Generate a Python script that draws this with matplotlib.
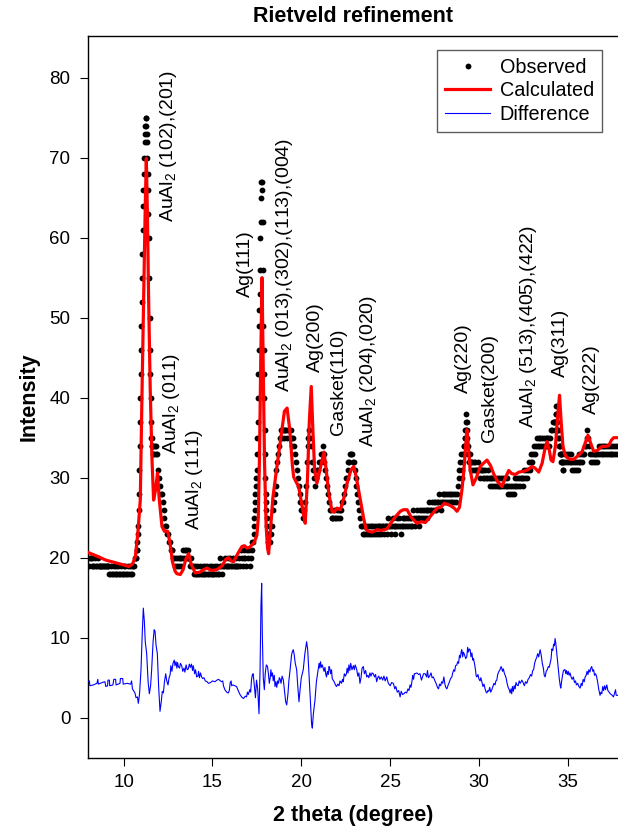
import numpy as np
import matplotlib
matplotlib.use("Agg")
import matplotlib.pyplot as plt

plt.rcParams['font.family'] = ['Liberation Sans', 'DejaVu Sans']
plt.rcParams['mathtext.fontset'] = 'custom'
plt.rcParams['mathtext.rm'] = 'Liberation Sans'

# observed counts, stored as (start 2theta, step, values) chunks
obs_a = (8.00, 0.05, [20, 19, 20, 20, 19, 20, 19,
                      19, 20, 19, 19, 20, 19, 19, 19,
                      19, 19, 19, 19, 19, 19, 19, 19, 19, 18,
                      18, 19, 18, 18, 19, 18, 19, 18, 18, 19, 18, 18, 19,
                      18, 18, 19, 18, 19, 18, 18, 19, 18, 19, 18, 19, 18,
                      19, 19, 20])
obs_b = (10.70, 0.02, [20, 20, 21, 21, 22, 23, 24, 26, 28, 31,
                       34, 37, 40, 43, 46, 49, 52, 55, 58, 61,
                       64, 66, 68, 70, 72, 73, 74, 75, 75, 74,
                       73, 72, 70, 68, 66, 63, 60, 55, 50, 46,
                       43, 40, 37, 35, 35, 34, 34, 34, 33, 34, 33])
obs_c = (11.75, 0.05, [34, 34, 33, 33, 31, 30, 29, 28, 28, 27,
                       26, 25, 24, 24, 23, 23, 22, 22, 21, 21,
                       21, 20, 20, 19, 20, 19, 20, 19, 20, 20,
                       19, 20, 21, 20, 21, 21, 20, 21, 20, 20,
                       19, 20, 19, 19, 18, 19, 18, 18, 19, 18,
                       18, 19, 18, 18, 19, 18, 18, 19, 18, 19,
                       18, 18, 19, 18, 18, 19, 18, 18, 19, 18,
                       19, 18, 18, 19, 20, 19, 18, 19, 19, 20,
                       19, 19, 20, 19, 19, 20, 19, 19, 20, 19,
                       19, 19, 20, 19, 19, 20, 19, 21, 20, 19,
                       20, 21, 20, 19, 21, 20, 21, 19, 20, 21, 22])
obs_d = (17.30, 0.02, [22, 23, 24, 25, 26, 27, 28, 29, 30, 31,
                       33, 35, 37, 40, 43, 46, 49, 51, 53, 56,
                       60, 62, 65, 67, 67, 66, 62, 56, 49, 46,
                       43, 40, 36, 33, 30, 28, 27, 26, 25, 24,
                       23, 23, 22, 22, 22, 22])
obs_e = (18.25, 0.05, [22, 23, 24, 26, 27, 28, 29, 31, 32, 33,
                       34, 35, 36, 35, 36, 36, 35, 36, 36, 35,
                       36, 36, 35, 36, 35, 34, 35, 34, 33, 32,
                       31, 30, 29, 28, 27, 26, 26, 25, 26, 27,
                       29, 32, 34, 35, 36, 35, 34, 32, 31, 30,
                       29, 30, 30, 31, 31, 32, 32, 33, 33, 34,
                       33, 32, 31, 30, 29, 28, 27, 26, 26, 25,
                       25, 25, 26, 25, 25, 26, 25, 26, 26, 25,
                       26, 27, 27, 28, 29, 30, 30, 31, 32, 32,
                       33, 33, 33, 32, 32, 31, 30, 29, 28, 27,
                       26, 25, 24, 24, 23, 24, 23, 24, 23, 24,
                       23, 24, 23, 24, 23, 24, 23, 24, 23, 24,
                       23, 24, 24, 23, 24, 23, 24, 24, 23, 24,
                       24, 23, 24, 25, 24, 24, 23, 24, 25, 24,
                       24, 23, 24, 25, 24, 25, 24, 23, 24, 25,
                       24, 25, 24, 25, 24, 25, 24, 25, 24, 25,
                       24, 26, 25, 24, 25, 26, 25, 24, 25, 26,
                       25, 26, 25, 26, 25, 26, 26, 25, 26, 27,
                       26, 26, 27, 26, 27, 26, 27, 26, 27, 27,
                       28, 27, 26, 27, 28, 27, 28, 27, 28, 27,
                       28, 27, 28, 27, 28, 27, 28, 27, 28, 27,
                       28, 29, 30, 31, 32, 33])
obs_f = (29.05, 0.02, [30, 31, 32, 33, 33, 34, 34, 35, 35, 36,
                       36, 37, 38, 37, 36, 35, 34, 33, 33, 32,
                       33, 32, 33, 32, 31, 32])
obs_g = (29.60, 0.05, [32, 31, 32, 31, 32, 31, 31, 32, 31, 30,
                       31, 31, 30, 31, 30, 31, 30, 30, 31, 30,
                       29, 30, 30, 29, 30, 29, 30, 29, 30, 29,
                       30, 29, 29, 30, 29, 30, 29, 30, 29, 30,
                       29, 28, 29, 28, 29, 28, 29, 28, 29, 30,
                       29, 30, 29, 30, 29, 30, 30, 29, 30, 31,
                       30, 31, 30, 31, 32, 31, 32, 33, 32, 33,
                       34, 33, 34, 35, 34, 35, 34, 35, 34, 35,
                       34, 35, 34, 35, 34, 35, 35, 34, 35, 36,
                       36, 37, 37])
obs_h = (34.25, 0.02, [36, 37, 37, 38, 38, 39, 39, 38, 37, 36,
                       36, 35, 35, 34, 34, 34, 33, 33, 32, 33,
                       32, 33, 32, 31, 32, 31])
obs_i = (34.80, 0.05, [32, 33, 32, 33, 32, 33, 32, 33, 32, 31,
                       32, 31, 32, 31, 32, 31, 32, 33, 32, 33,
                       32, 33, 33, 34, 34, 35, 36, 35, 34, 33,
                       32, 33, 32, 33, 32, 33, 33, 32, 33, 34,
                       33, 34, 33, 34, 33, 34, 33, 34, 33, 34,
                       33, 34, 33, 33, 34, 33, 34, 33, 34, 33,
                       34])
obs_chunks = [obs_a, obs_b, obs_c, obs_d, obs_e, obs_f, obs_g, obs_h, obs_i]

# calculated profile (2theta, intensity)
calc_x = [7.95, 8.5, 9.0, 9.5, 10.0, 10.29, 10.5, 10.66, 10.8, 10.94,
          11.03, 11.13, 11.22, 11.28, 11.34, 11.41, 11.5, 11.6, 11.69, 11.8,
          11.91, 12.0, 12.16, 12.3, 12.48, 12.6, 12.75, 12.9, 13.0, 13.19,
          13.35, 13.5, 13.66, 13.8, 14.03, 14.3, 14.5, 14.69, 14.95, 15.25,
          15.55, 15.75, 15.9, 16.05, 16.19, 16.4, 16.66, 16.8, 16.94, 17.1,
          17.22, 17.35, 17.5, 17.58, 17.65, 17.72, 17.79, 17.85, 17.93, 18.02,
          18.1, 18.16, 18.25, 18.4, 18.63, 18.85, 19.05, 19.2, 19.35, 19.5,
          19.57, 19.7, 19.85, 20.0, 20.12, 20.22, 20.35, 20.45, 20.56, 20.65,
          20.75, 20.88, 21.0, 21.15, 21.28, 21.4, 21.55, 21.73, 21.85, 22.0,
          22.2, 22.4, 22.6, 22.8, 22.95, 23.1, 23.3, 23.5, 23.65, 23.79,
          24.0, 24.26, 24.5, 24.82, 25.0, 25.25, 25.57, 25.75, 25.95, 26.2,
          26.51, 26.75, 26.98, 27.2, 27.45, 27.64, 27.85, 28.05, 28.2, 28.4,
          28.6, 28.76, 28.9, 29.04, 29.15, 29.25, 29.32, 29.4, 29.5, 29.66,
          29.85, 30.07, 30.25, 30.45, 30.65, 30.82, 31.05, 31.29, 31.45, 31.67,
          31.85, 32.04, 32.25, 32.51, 32.75, 32.98, 33.15, 33.36, 33.55, 33.7,
          33.83, 33.95, 34.05, 34.16, 34.3, 34.42, 34.53, 34.62, 34.72, 34.82,
          34.91, 35.1, 35.32, 35.55, 35.79, 35.95, 36.13, 36.3, 36.45, 36.65,
          36.8, 36.92, 37.1, 37.3, 37.45, 37.58, 37.85]
calc_y = [20.7, 20.2, 19.7, 19.4, 19.1, 18.9, 19.2, 20.1, 23.0, 27.2,
          39.7, 52.2, 64.0, 69.9, 63.0, 52.2, 41.0, 32.2, 27.2, 28.5,
          30.6, 27.5, 23.9, 23.3, 23.3, 22.0, 19.5, 18.3, 18.0, 17.9,
          18.5, 19.8, 20.5, 19.2, 18.1, 18.2, 18.5, 18.7, 18.4, 18.5,
          19.0, 19.8, 20.0, 19.6, 19.5, 20.4, 21.4, 21.5, 21.2, 21.3,
          21.6, 21.9, 22.8, 25.0, 33.0, 45.0, 55.0, 45.0, 32.0, 24.0,
          21.2, 20.5, 23.0, 27.5, 31.4, 35.0, 38.3, 38.7, 36.0, 31.5,
          30.1, 29.5, 28.9, 27.0, 25.5, 24.3, 30.0, 37.0, 41.4, 36.0,
          31.0, 29.3, 30.5, 32.0, 33.2, 31.0, 28.0, 25.8, 25.7, 26.2,
          26.0, 27.5, 29.5, 31.0, 31.4, 30.0, 27.5, 25.0, 23.5, 23.3,
          23.2, 23.5, 23.4, 23.6, 24.2, 25.0, 25.8, 26.0, 26.0, 25.0,
          24.3, 24.5, 24.4, 25.0, 25.7, 26.2, 26.3, 26.8, 26.7, 26.5,
          26.2, 25.8, 26.3, 28.5, 31.0, 34.0, 36.0, 34.0, 31.0, 29.1,
          30.0, 31.4, 31.8, 32.2, 31.5, 30.5, 29.5, 28.9, 29.8, 30.9,
          30.5, 30.4, 30.7, 30.8, 31.0, 31.4, 31.2, 30.7, 31.8, 33.5,
          34.5, 33.5, 32.2, 32.0, 34.0, 37.5, 40.3, 37.0, 34.0, 33.0,
          32.6, 32.3, 32.3, 32.7, 33.2, 34.2, 35.3, 34.2, 33.3, 33.4,
          33.7, 33.9, 33.9, 34.0, 34.7, 35.0, 35.0]

# difference curve (2theta, value)
diff_x = [8.00, 8.08, 8.10, 8.30, 8.50, 8.55, 8.58, 8.80, 8.95, 9.00,
          9.10, 9.12, 9.20, 9.22, 9.40, 9.45, 9.55, 9.58, 9.80, 9.82,
          9.95, 9.98, 10.20, 10.40, 10.45, 10.50, 10.64, 10.70, 10.78, 10.83,
          10.90, 10.98, 11.05, 11.11, 11.17, 11.22, 11.30, 11.38, 11.45, 11.52,
          11.58, 11.66, 11.72, 11.77, 11.83, 11.90, 11.97, 12.05, 12.12, 12.18,
          12.24, 12.30, 12.37, 12.43, 12.50, 12.56, 12.62, 12.66, 12.72, 12.78,
          12.85, 12.89, 12.95, 13.00, 13.04, 13.08, 13.15, 13.20, 13.27, 13.33,
          13.40, 13.45, 13.52, 13.58, 13.64, 13.70, 13.76, 13.82, 13.88, 13.92,
          14.00, 14.05, 14.11, 14.18, 14.22, 14.27, 14.33, 14.39, 14.45, 14.52,
          14.60, 14.70, 14.77, 14.90, 15.00, 15.14, 15.25, 15.35, 15.45, 15.52,
          15.58, 15.62, 15.70, 15.80, 15.89, 15.95, 16.00, 16.05, 16.08, 16.15,
          16.25, 16.36, 16.45, 16.55, 16.64, 16.75, 16.85, 16.92, 16.97, 17.02,
          17.10, 17.15, 17.20, 17.25, 17.29, 17.35, 17.42, 17.48, 17.55, 17.62,
          17.68, 17.73, 17.77, 17.81, 17.86, 17.92, 17.97, 18.03, 18.10, 18.15,
          18.20, 18.25, 18.29, 18.33, 18.38, 18.42, 18.48, 18.52, 18.57, 18.62,
          18.67, 18.72, 18.76, 18.80, 18.86, 18.92, 18.99, 19.05, 19.12, 19.18,
          19.25, 19.30, 19.37, 19.45, 19.50, 19.55, 19.60, 19.66, 19.74, 19.80,
          19.87, 19.93, 20.00, 20.11, 20.20, 20.30, 20.36, 20.45, 20.53, 20.58,
          20.62, 20.68, 20.77, 20.85, 20.95, 21.00, 21.04, 21.08, 21.13, 21.18,
          21.23, 21.28, 21.33, 21.38, 21.42, 21.47, 21.52, 21.56, 21.60, 21.65,
          21.70, 21.74, 21.79, 21.85, 21.92, 21.98, 22.05, 22.12, 22.18, 22.26,
          22.32, 22.36, 22.42, 22.48, 22.54, 22.58, 22.63, 22.68, 22.73, 22.78,
          22.85, 22.93, 22.98, 23.03, 23.08, 23.12, 23.18, 23.24, 23.30, 23.36,
          23.42, 23.49, 23.55, 23.62, 23.68, 23.74, 23.80, 23.86, 23.92, 23.98,
          24.05, 24.12, 24.18, 24.24, 24.30, 24.36, 24.42, 24.50, 24.58, 24.65,
          24.72, 24.81, 24.86, 24.90, 25.00, 25.08, 25.18, 25.26, 25.32, 25.40,
          25.48, 25.56, 25.62, 25.70, 25.78, 25.85, 25.93, 26.00, 26.06, 26.12,
          26.17, 26.21, 26.27, 26.32, 26.36, 26.40, 26.50, 26.60, 26.68, 26.76,
          26.82, 26.88, 26.97, 27.05, 27.10, 27.15, 27.22, 27.30, 27.36, 27.43,
          27.52, 27.60, 27.66, 27.72, 27.78, 27.84, 27.90, 27.96, 28.02, 28.08,
          28.13, 28.19, 28.25, 28.32, 28.40, 28.47, 28.52, 28.58, 28.63, 28.68,
          28.75, 28.80, 28.85, 28.90, 28.95, 29.00, 29.03, 29.08, 29.12, 29.18,
          29.25, 29.31, 29.36, 29.40, 29.45, 29.50, 29.55, 29.60, 29.65, 29.69,
          29.75, 29.80, 29.84, 29.88, 29.94, 30.00, 30.06, 30.10, 30.16, 30.22,
          30.28, 30.34, 30.40, 30.44, 30.50, 30.55, 30.60, 30.66, 30.72, 30.78,
          30.84, 30.90, 30.95, 31.00, 31.05, 31.12, 31.18, 31.24, 31.28, 31.32,
          31.37, 31.42, 31.47, 31.52, 31.58, 31.64, 31.70, 31.75, 31.80, 31.84,
          31.88, 31.93, 31.98, 32.03, 32.08, 32.13, 32.20, 32.26, 32.32, 32.41,
          32.48, 32.55, 32.62, 32.69, 32.76, 32.83, 32.90, 32.96, 33.02, 33.07,
          33.13, 33.18, 33.24, 33.30, 33.36, 33.40, 33.44, 33.50, 33.56, 33.62,
          33.67, 33.72, 33.78, 33.84, 33.90, 33.95, 34.00, 34.05, 34.10, 34.15,
          34.20, 34.24, 34.28, 34.32, 34.37, 34.42, 34.47, 34.52, 34.57, 34.60,
          34.65, 34.70, 34.75, 34.80, 34.84, 34.88, 34.92, 34.97, 35.02, 35.07,
          35.12, 35.18, 35.24, 35.31, 35.37, 35.43, 35.48, 35.55, 35.62, 35.69,
          35.75, 35.80, 35.86, 35.92, 35.97, 36.03, 36.08, 36.13, 36.18, 36.24,
          36.29, 36.34, 36.40, 36.45, 36.50, 36.56, 36.62, 36.68, 36.74, 36.81,
          36.86, 36.91, 36.96, 37.01, 37.07, 37.12, 37.19, 37.25, 37.32, 37.38,
          37.44, 37.50, 37.56, 37.62, 37.68, 37.72, 37.78, 37.85]
diff_y = [4.5, 4.6, 4.0, 4.1, 4.3, 4.8, 4.2, 4.4, 4.5, 3.9,
          4.0, 4.7, 4.7, 4.0, 4.1, 4.8, 4.8, 4.1, 4.3, 4.9,
          4.9, 4.2, 4.3, 4.2, 4.6, 3.6, 3.1, 2.5, 2.6, 1.8,
          3.0, 6.0, 10.5, 13.7, 12.0, 9.5, 8.0, 4.5, 3.0, 4.0,
          6.0, 9.5, 11.0, 10.8, 9.0, 8.0, 4.0, 0.8, 2.0, 3.3,
          3.1, 4.5, 5.5, 4.6, 4.1, 5.0, 5.4, 6.5, 5.8, 6.8,
          7.2, 6.5, 7.0, 6.2, 6.9, 6.4, 6.2, 6.8, 6.5, 5.8,
          6.2, 5.7, 6.6, 6.0, 6.1, 6.7, 6.3, 6.7, 5.9, 6.5,
          5.5, 6.0, 5.1, 5.2, 5.8, 5.0, 5.6, 5.1, 4.9, 5.0,
          4.6, 4.5, 4.3, 4.4, 4.6, 4.5, 4.7, 4.8, 4.6, 4.5,
          4.6, 4.0, 3.5, 3.2, 3.1, 3.4, 4.4, 4.6, 4.0, 4.1,
          4.0, 3.9, 3.4, 2.9, 2.6, 2.4, 2.7, 2.6, 3.2, 2.9,
          3.5, 3.2, 4.8, 5.4, 5.5, 4.2, 2.5, 4.7, 3.5, 0.5,
          6.0, 14.0, 16.8, 10.0, 5.0, 3.5, 5.5, 6.6, 6.4, 5.5,
          4.3, 5.0, 6.0, 5.2, 5.6, 4.6, 5.3, 3.9, 4.5, 3.8,
          4.6, 4.3, 5.0, 4.9, 4.3, 5.2, 4.7, 3.5, 2.0, 1.6,
          3.0, 4.6, 6.0, 7.8, 8.3, 8.5, 7.9, 6.8, 6.0, 4.0,
          2.0, 3.5, 5.0, 6.0, 8.0, 9.5, 8.5, 4.7, 1.5, -0.8,
          -1.3, 0.5, 2.2, 4.5, 6.0, 6.8, 6.2, 7.0, 6.3, 6.6,
          6.2, 5.8, 6.3, 5.4, 5.1, 5.8, 5.4, 6.4, 6.2, 5.5,
          6.0, 4.9, 4.7, 4.5, 4.1, 3.9, 4.2, 4.0, 4.6, 4.3,
          4.8, 4.5, 5.5, 5.2, 5.5, 6.2, 5.6, 6.6, 5.9, 6.8,
          6.0, 6.5, 6.0, 6.6, 6.3, 6.0, 5.2, 5.6, 4.3, 5.0,
          6.2, 6.4, 5.5, 5.9, 5.1, 5.3, 5.0, 5.6, 5.2, 5.6,
          5.5, 5.1, 5.4, 4.5, 5.0, 5.2, 4.8, 5.1, 4.7, 5.2,
          4.6, 5.1, 4.6, 4.3, 4.0, 4.4, 4.3, 3.6, 3.9, 3.2,
          3.4, 2.6, 3.3, 2.9, 3.0, 3.2, 3.1, 3.6, 3.4, 4.1,
          3.8, 4.3, 5.3, 4.8, 5.5, 5.5, 5.6, 5.4, 5.5, 4.7,
          5.1, 5.5, 5.5, 5.1, 5.9, 5.0, 5.2, 5.6, 5.0, 5.1,
          4.6, 4.2, 3.8, 3.6, 4.2, 4.0, 4.5, 4.3, 5.1, 4.2,
          3.8, 3.6, 4.0, 4.4, 4.9, 5.1, 5.6, 6.0, 5.8, 6.5,
          6.6, 7.0, 6.8, 7.8, 7.5, 8.3, 8.5, 7.6, 8.2, 7.9,
          7.4, 7.6, 8.8, 8.2, 8.6, 8.5, 7.6, 8.1, 7.2, 7.4,
          6.7, 6.0, 5.2, 5.1, 5.4, 4.8, 4.6, 5.0, 4.5, 3.9,
          4.2, 3.6, 3.2, 3.1, 3.4, 3.3, 3.8, 3.2, 3.5, 3.9,
          4.3, 4.1, 4.6, 4.7, 5.4, 5.8, 6.0, 6.4, 6.2, 5.8,
          6.1, 5.6, 5.3, 5.0, 4.3, 3.8, 3.5, 3.1, 3.6, 3.0,
          3.9, 3.3, 4.0, 3.6, 4.4, 4.1, 4.0, 4.6, 4.3, 4.7,
          4.4, 4.0, 4.5, 4.3, 4.8, 5.0, 5.4, 5.2, 5.9, 6.0,
          6.8, 7.2, 7.5, 8.0, 7.6, 8.1, 8.5, 7.8, 6.8, 6.2,
          5.3, 5.1, 5.8, 6.0, 6.4, 6.3, 6.8, 7.3, 8.6, 8.4,
          9.2, 9.0, 9.9, 9.3, 8.2, 7.0, 6.0, 4.8, 4.0, 3.7,
          4.6, 5.3, 5.9, 6.0, 6.0, 5.5, 5.9, 5.4, 5.8, 5.3,
          5.6, 5.1, 4.8, 5.1, 4.4, 4.6, 4.1, 4.3, 3.9, 3.7,
          4.3, 4.0, 4.8, 4.5, 5.1, 5.3, 5.8, 5.4, 6.0, 5.7,
          6.2, 6.4, 5.8, 6.0, 5.3, 5.5, 5.1, 4.4, 3.5, 2.8,
          3.2, 3.0, 3.9, 3.4, 4.0, 3.5, 4.1, 3.4, 3.2, 3.0,
          2.9, 2.8, 2.6, 3.0, 3.5, 2.8, 2.8, 2.8]

# peak labels: text, 2theta, intensity where the text starts
peak_labels = ['$\\mathregular{AuAl_2}$ (102),(201)', '$\\mathregular{AuAl_2}$ (011)',
               '$\\mathregular{AuAl_2}$ (111)', 'Ag(111)',
               '$\\mathregular{AuAl_2}$ (013),(302),(113),(004)', 'Ag(200)', 'Gasket(110)',
               '$\\mathregular{AuAl_2}$ (204),(020)', 'Ag(220)', 'Gasket(200)',
               '$\\mathregular{AuAl_2}$ (513),(405),(422)', 'Ag(311)', 'Ag(222)']
label_x = [12.5, 12.7, 14.0, 16.85, 19.05, 20.8, 22.1, 23.8, 29.1, 30.6, 32.8, 34.6, 36.35]
label_y = [62.0, 33.0, 23.5, 52.6, 40.7, 43.2, 35.3, 33.8, 40.6, 34.5, 36.2, 42.6, 38.0]


def main():
    obs_x, obs_y = [], []
    for start, step, vals in obs_chunks:
        obs_x.extend(start + step * np.arange(len(vals)))
        obs_y.extend(vals)

    fig = plt.figure(figsize=(6.18, 8.32), dpi=100)
    ax = fig.add_axes([87.5 / 618, 73.7 / 832, 530.5 / 618, 722.3 / 832])

    ax.plot(obs_x, obs_y, 'o', color='black', markersize=4.2, markeredgewidth=0,
            label='Observed', zorder=2)
    ax.plot(calc_x, calc_y, color='#ff0000', lw=2.3, label='Calculated', zorder=3)
    ax.plot(diff_x, diff_y, color='#0000ff', lw=0.8, label='Difference', zorder=3)

    for txt, x, y in zip(peak_labels, label_x, label_y):
        ax.text(x, y, txt, rotation=90, ha='center', va='bottom', fontsize=14)

    ax.set_xlim(7.97, 37.82)
    ax.set_ylim(-5.07, 85.2)
    ax.set_xticks([10, 15, 20, 25, 30, 35])
    ax.set_yticks(range(0, 81, 10))
    ax.tick_params(direction='out', length=5.8, width=0.8, labelsize=13.5)
    ax.tick_params(axis='y', pad=6.5)
    ax.tick_params(axis='x', pad=5.5)
    ax.spines['right'].set_visible(False)
    for s in ['left', 'top', 'bottom']:
        ax.spines[s].set_linewidth(1.0)

    ax.set_xlabel('2 theta (degree)', fontsize=15.5, fontweight='bold', labelpad=10)
    ax.set_ylabel('Intensity', fontsize=15.5, fontweight='bold', labelpad=7)
    ax.set_title('Rietveld refinement', fontsize=15.5, fontweight='bold', pad=10)

    leg = ax.legend(loc='upper right', bbox_to_anchor=(602 / 618, 1 - 50 / 832),
                    bbox_transform=fig.transFigure, fontsize=14.3, frameon=True,
                    fancybox=False, borderaxespad=0, handlelength=2.25,
                    handletextpad=0.5, labelspacing=0.22, borderpad=0.4)
    leg.get_frame().set_edgecolor('#333333')
    leg.get_frame().set_linewidth(1.0)

    fig.savefig('out.png', dpi=100)


if __name__ == "__main__":
    main()
